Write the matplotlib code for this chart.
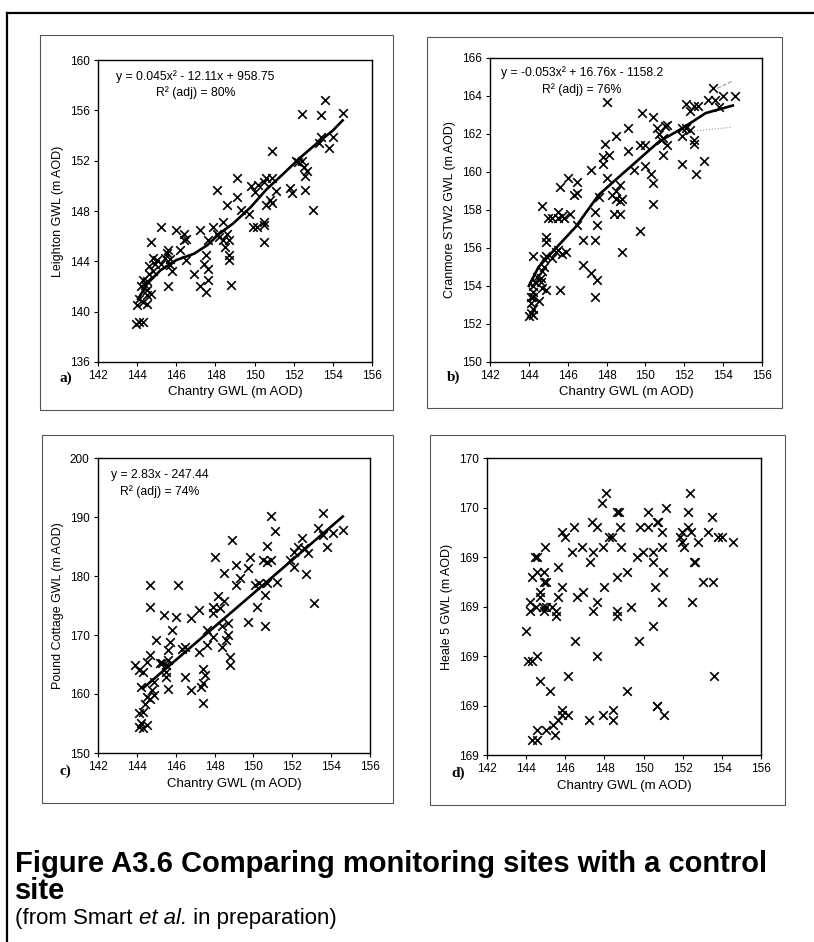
import matplotlib
matplotlib.use("Agg")
import matplotlib.pyplot as plt
from matplotlib.lines import Line2D
from matplotlib.patches import Rectangle
import numpy as np

plt.rcParams['font.family'] = ['Liberation Sans', 'DejaVu Sans']

W, H = 814, 942

# ---- data ----
# a) Leighton vs Chantry
a_x = [153.6, 152.4, 153.4, 154.5, 153.4, 153.3, 153.8, 154.0, 150.9, 152.1, 152.2, 152.4,
       152.5, 152.7, 152.6, 151.8, 151.9, 152.6, 153.0, 149.1, 150.6, 150.9, 150.5, 150.2,
       149.8, 150.0, 151.1, 150.8, 150.9, 150.6, 149.1, 149.3, 149.7, 149.9, 150.1, 150.5,
       150.5, 150.5, 148.6, 148.1, 148.4, 147.9, 148.1, 148.2, 148.4, 148.6, 148.7, 148.5,
       148.7, 148.7, 148.8, 147.2, 147.6, 147.5, 147.4, 147.6, 147.6, 147.2, 147.5, 146.9,
       146.4, 146.4, 146.5, 146.0, 146.2, 146.5, 145.8, 145.7, 145.6, 145.5, 145.4, 145.7,
       145.6, 145.2, 144.7, 144.8, 145.0, 145.2, 144.9, 144.6, 144.8, 144.6, 144.3, 144.5,
       144.4, 144.2, 144.5, 144.7, 144.5, 144.1, 144.3, 144.5, 144.0, 144.1, 144.3, 143.96]
a_y = [156.8, 155.7, 155.6, 155.8, 153.9, 153.4, 153.0, 153.9, 152.8, 152.0, 151.9, 152.0,
       151.5, 151.2, 150.8, 149.8, 149.4, 149.7, 148.1, 150.6, 150.6, 150.6, 150.3, 150.1,
       150.0, 149.5, 149.6, 148.9, 148.6, 148.5, 149.1, 148.1, 147.8, 146.7, 146.7, 146.9,
       147.1, 145.5, 148.5, 149.7, 147.1, 146.7, 146.2, 145.9, 145.7, 146.2, 145.7, 145.1,
       144.5, 144.1, 142.1, 146.5, 145.7, 144.5, 143.8, 143.4, 142.5, 142.0, 141.6, 143.0,
       146.2, 145.7, 145.8, 146.5, 144.9, 144.1, 143.2, 143.7, 144.9, 144.7, 144.3, 144.2,
       142.0, 146.7, 145.5, 144.3, 144.1, 143.8, 143.8, 143.6, 143.2, 143.0, 142.5, 142.4,
       142.1, 142.0, 141.7, 141.4, 141.3, 141.0, 140.8, 140.6, 140.5, 139.2, 139.2, 139.0]
a_fit_x = [144.05, 144.5, 145.2, 146.0, 146.9, 147.6, 148.2, 148.9, 149.8, 150.6, 151.5,
           152.3, 153.2, 154.0, 154.5]
a_fit_y = [141.0, 142.2, 143.3, 144.1, 144.6, 145.3, 146.2, 147.0, 148.3, 149.7, 151.0,
           152.2, 153.4, 154.4, 155.2]

# b) Cranmore STW2 vs Chantry
b_x = [153.5, 153.2, 153.6, 154.6, 154.0, 153.8, 152.1, 152.3, 152.5, 152.7, 151.9, 152.1,
       152.3, 151.9, 152.5, 152.5, 151.9, 152.6, 153.0, 148.0, 149.8, 150.4, 149.1, 148.5,
       147.9, 150.0, 149.7, 149.1, 148.1, 147.8, 147.8, 147.2, 150.0, 150.3, 150.4, 150.4,
       149.7, 150.6, 150.7, 151.0, 151.1, 150.9, 150.8, 151.1, 150.9, 149.4, 148.0, 148.5,
       148.7, 148.3, 148.5, 148.7, 148.8, 148.7, 148.4, 148.8, 147.4, 147.5, 147.4, 147.6,
       147.2, 147.5, 147.4, 146.8, 146.8, 146.5, 146.5, 146.3, 146.0, 146.1, 146.5, 145.6,
       145.5, 145.7, 145.8, 145.5, 145.2, 145.0, 144.7, 144.9, 144.9, 145.9, 145.7, 145.5,
       145.4, 145.6, 145.2, 144.9, 144.8, 144.2, 144.8, 144.7, 144.6, 144.4, 144.3, 144.6,
       144.7, 144.9, 144.2, 144.2, 144.1, 144.2, 144.5, 144.1, 144.2, 144.1, 144.0, 144.2]
b_y = [164.4, 163.8, 163.8, 164.0, 164.0, 163.4, 163.6, 163.2, 163.5, 163.5, 162.3, 162.3,
       162.2, 161.9, 161.7, 161.5, 160.4, 159.9, 160.6, 163.7, 163.1, 162.9, 162.3, 161.9,
       161.5, 161.4, 161.4, 161.1, 160.9, 160.8, 160.4, 160.1, 160.3, 159.9, 159.4, 158.3,
       156.9, 162.3, 162.0, 162.4, 162.5, 161.8, 161.7, 161.4, 160.9, 160.1, 159.7, 159.0,
       159.3, 158.8, 158.6, 158.5, 158.6, 157.8, 157.8, 155.8, 157.9, 157.2, 156.4, 158.7,
       154.7, 154.3, 153.4, 155.1, 156.4, 159.5, 158.9, 158.8, 159.7, 157.8, 157.2, 159.2,
       157.9, 157.7, 157.6, 157.6, 157.6, 157.6, 158.2, 156.6, 156.3, 155.8, 155.7, 155.9,
       155.8, 153.8, 155.5, 155.6, 155.4, 155.6, 155.0, 154.8, 154.4, 154.5, 154.2, 154.2,
       153.9, 153.8, 154.0, 153.7, 153.4, 153.4, 153.2, 153.1, 152.8, 152.6, 152.4, 152.5]
b_fit_x = [144.0, 144.5, 145.4, 146.4, 147.6, 148.7, 149.7, 150.7, 151.9, 153.1, 154.5]
b_fit_y = [154.0, 155.0, 156.0, 157.1, 158.8, 159.8, 160.7, 161.6, 162.3, 163.1, 163.5]

# c) Pound Cottage vs Chantry
c_x = [153.6, 150.9, 151.1, 153.3, 153.6, 154.1, 154.6, 153.8, 150.7, 152.5, 152.3, 152.6,
       152.8, 152.1, 151.9, 152.1, 152.7, 153.1, 150.5, 150.7, 150.9, 149.8, 149.7, 149.1,
       149.3, 149.1, 148.9, 148.0, 148.5, 148.2, 148.5, 150.1, 150.3, 150.7, 150.6, 150.2,
       150.6, 149.7, 151.2, 147.9, 147.9, 148.3, 148.7, 148.4, 148.7, 148.6, 148.4, 148.8,
       148.8, 147.6, 147.9, 147.6, 147.2, 146.8, 147.2, 147.4, 147.5, 147.4, 147.3, 147.4,
       146.8, 146.5, 146.5, 146.3, 146.1, 146.0, 145.8, 145.7, 145.6, 145.6, 145.4, 145.5,
       145.5, 145.6, 145.3, 145.5, 145.0, 145.2, 144.7, 144.7, 144.7, 144.5, 144.9, 144.8,
       144.9, 144.7, 144.5, 144.2, 144.4, 144.3, 144.1, 143.9, 144.1, 144.3, 144.5, 144.2,
       144.1, 144.3]
c_y = [190.7, 190.2, 187.7, 188.1, 187.0, 187.3, 187.8, 185.0, 185.1, 186.4, 185.0, 184.8,
       183.9, 184.1, 182.7, 181.6, 180.3, 175.5, 182.7, 182.4, 182.7, 183.3, 181.3, 181.9,
       179.6, 178.5, 186.1, 183.3, 180.5, 176.6, 175.8, 178.5, 178.8, 178.8, 176.8, 174.8,
       171.6, 172.2, 179.0, 174.8, 173.7, 174.5, 172.0, 171.5, 170.0, 169.1, 168.0, 166.3,
       164.9, 170.8, 169.7, 168.3, 174.2, 172.8, 167.1, 164.3, 163.2, 161.8, 161.2, 158.4,
       160.7, 162.9, 168.0, 167.7, 178.5, 173.1, 170.8, 168.8, 167.4, 165.7, 173.4, 164.9,
       163.7, 160.9, 165.2, 162.9, 169.1, 165.2, 178.5, 174.8, 166.6, 165.4, 162.0, 160.6,
       159.8, 159.2, 159.5, 161.2, 158.3, 156.9, 156.7, 164.9, 164.0, 163.7, 154.7, 155.0,
       154.4, 154.2]
c_slope, c_intercept = 2.83, -247.44
c_fit_x = [144.3, 154.6]

# d) Heale 5 vs Chantry
d_x = [148.08, 152.38, 154.57, 154.0, 153.5, 153.27, 153.8, 153.06, 153.54, 152.77, 152.29,
       152.29, 152.4, 151.87, 151.95, 152.07, 151.95, 152.6, 152.65, 152.5, 153.58, 151.15,
       150.67, 150.76, 150.93, 150.93, 150.5, 150.5, 151.0, 150.59, 150.96, 150.5, 150.25,
       150.25, 149.82, 149.99, 149.65, 149.14, 149.34, 149.77, 148.8, 148.62, 148.76, 148.37,
       148.25, 148.83, 148.62, 147.91, 147.86, 147.6, 147.34, 147.4, 147.26, 147.99, 147.6,
       147.4, 148.62, 148.66, 146.87, 146.35, 146.46, 145.84, 145.98, 146.58, 146.88, 145.82,
       145.64, 145.64, 145.55, 145.55, 146.52, 144.94, 144.44, 144.53, 144.32, 144.53, 144.9,
       144.9, 145.0, 144.7, 144.7, 144.19, 144.19, 144.48, 144.87, 145.04, 144.9, 145.3,
       143.99, 144.1, 144.32, 144.56, 147.63, 146.15, 144.73, 145.21, 149.14, 145.81, 145.81,
       145.64, 146.15, 145.38, 145.47, 145.0, 144.53, 144.32, 144.58, 147.22, 147.94, 148.45,
       148.45, 150.67, 150.67, 151.05]
d_y = [169.53, 169.53, 169.43, 169.44, 169.48, 169.45, 169.44, 169.35, 169.35, 169.43, 169.49,
       169.46, 169.45, 169.44, 169.43, 169.42, 169.45, 169.39, 169.39, 169.31, 169.16, 169.50,
       169.47, 169.47, 169.45, 169.42, 169.41, 169.39, 169.37, 169.34, 169.31, 169.26, 169.49,
       169.46, 169.46, 169.41, 169.40, 169.37, 169.30, 169.23, 169.46, 169.49, 169.49, 169.44,
       169.44, 169.42, 169.36, 169.42, 169.51, 169.46, 169.47, 169.41, 169.39, 169.34, 169.31,
       169.29, 169.29, 169.28, 169.42, 169.41, 169.46, 169.45, 169.44, 169.32, 169.33, 169.34,
       169.38, 169.32, 169.29, 169.28, 169.23, 169.42, 169.40, 169.40, 169.36, 169.37, 169.37,
       169.35, 169.35, 169.33, 169.32, 169.31, 169.29, 169.30, 169.30, 169.30, 169.29, 169.30,
       169.25, 169.19, 169.19, 169.20, 169.20, 169.16, 169.15, 169.13, 169.13, 169.09, 169.08,
       169.07, 169.08, 169.06, 169.04, 169.05, 169.05, 169.03, 169.03, 169.07, 169.08, 169.09,
       169.07, 169.10, 169.10, 169.08]

x_ticks = [142, 144, 146, 148, 150, 152, 154, 156]
a_yticks = [136, 140, 144, 148, 152, 156, 160]
b_yticks = [150, 152, 154, 156, 158, 160, 162, 164, 166]
c_yticks = [150, 160, 170, 180, 190, 200]
d_yticks = [169.0, 169.1, 169.2, 169.3, 169.4, 169.5, 169.6]
d_yticklabels = ['169', '169', '169', '169', '169', '170', '170']

x_label = 'Chantry GWL (m AOD)'
y_labels = ['Leighton GWL (m AOD)', 'Cranmore STW2 GWL (m AOD)',
            'Pound Cottage GWL (m AOD)', 'Heale 5 GWL (m AOD)']


fig = plt.figure(figsize=(W / 100, H / 100), dpi=100)


def px_axes(left, top, right, bottom):
  return fig.add_axes([left / W, 1 - bottom / H, (right - left) / W, (bottom - top) / H])


def frame(left, top, right, bottom):
  fig.patches.append(Rectangle((left / W, 1 - bottom / H), (right - left) / W, (bottom - top) / H,
                               transform=fig.transFigure, fill=False, ec='#555555', lw=0.8))


def style(ax, yticks, ylabel, letter, lx, ly):
  ax.set_xlim(142, 156)
  ax.set_ylim(yticks[0], yticks[-1])
  ax.set_xticks(x_ticks)
  ax.set_yticks(yticks)
  ax.tick_params(direction='out', length=3, width=0.8, labelsize=8.5, pad=3)
  for s in ax.spines.values():
    s.set_linewidth(1.0)
  ax.set_xlabel(x_label, fontsize=9.5, labelpad=3)
  ax.set_ylabel(ylabel, fontsize=9, labelpad=4)
  fig.text(lx / W, 1 - ly / H, letter, fontsize=11, fontweight='bold',
           family='Liberation Serif', ha='left', va='center')


def scatter(ax, x, y):
  ax.scatter(x, y, marker='x', s=38, c='black', linewidths=1.2, zorder=3)


frames = [(40, 35, 393, 410), (427, 37, 782, 408), (42, 435, 393, 803), (430, 435, 785, 805)]
for f in frames:
  frame(*f)

# a)
ax_a = px_axes(98, 60, 372, 362)
scatter(ax_a, a_x, a_y)
ax_a.plot(a_fit_x, a_fit_y, color='black', lw=1.9, zorder=4)
style(ax_a, a_yticks, y_labels[0], 'a)', 59, 378)
fig.text(195 / W, 1 - 77 / H, 'y = 0.045x² - 12.11x + 958.75', fontsize=8.8, ha='center', va='center')
fig.text(196 / W, 1 - 93 / H, 'R² (adj) = 80%', fontsize=8.8, ha='center', va='center')

# b)
ax_b = px_axes(490, 58, 762, 362)
scatter(ax_b, b_x, b_y)
ax_b.plot(b_fit_x, b_fit_y, color='black', lw=1.9, zorder=4)
ax_b.plot([151.9, 154.4], [162.1, 162.35], color='#999999', lw=0.8, ls=':')
ax_b.plot([153.7, 154.5], [164.4, 164.8], color='#999999', lw=0.8, ls='--')
style(ax_b, b_yticks, y_labels[1], 'b)', 447, 377)
fig.text(582 / W, 1 - 73 / H, 'y = -0.053x² + 16.76x - 1158.2', fontsize=8.8, ha='center', va='center')
fig.text(582 / W, 1 - 90 / H, 'R² (adj) = 76%', fontsize=8.8, ha='center', va='center')

# c)
ax_c = px_axes(98, 458, 370, 753)
scatter(ax_c, c_x, c_y)
fx = np.array(c_fit_x)
ax_c.plot(fx, c_slope * fx + c_intercept, color='black', lw=1.9, zorder=4)
style(ax_c, c_yticks, y_labels[2], 'c)', 59, 771)
fig.text(160 / W, 1 - 475 / H, 'y = 2.83x - 247.44', fontsize=8.8, ha='center', va='center')
fig.text(160 / W, 1 - 492 / H, 'R² (adj) = 74%', fontsize=8.8, ha='center', va='center')

# d)
ax_d = px_axes(487, 458, 761, 755)
scatter(ax_d, d_x, d_y)
style(ax_d, d_yticks, y_labels[3], 'd)', 451, 773)
ax_d.set_yticklabels(d_yticklabels)

# outer border (top and left only)
fig.lines.append(Line2D([7 / W, 1], [1 - 13 / H, 1 - 13 / H], transform=fig.transFigure, color='black', lw=1.6))
fig.lines.append(Line2D([7 / W, 7 / W], [0, 1 - 13 / H], transform=fig.transFigure, color='black', lw=1.6))

# caption
fig.text(15 / W, 1 - 872 / H, 'Figure A3.6 Comparing monitoring sites with a control',
         fontsize=21, fontweight='bold', ha='left', va='baseline')
fig.text(15 / W, 1 - 899 / H, 'site', fontsize=21, fontweight='bold', ha='left', va='baseline')

r = fig.canvas.get_renderer()
x0 = 15
for part, st in [('(from Smart ', 'normal'), ('et al.', 'italic'), (' in preparation)', 'normal')]:
  t = fig.text(x0 / W, 1 - 924 / H, part, fontsize=16, style=st, ha='left', va='baseline')
  x0 += t.get_window_extent(renderer=r).width

fig.savefig('out.png', dpi=100)
